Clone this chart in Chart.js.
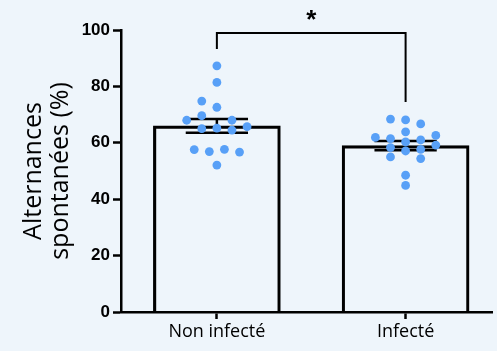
<!DOCTYPE html>
<html>
<head>
<meta charset="utf-8">
<script src="https://cdn.jsdelivr.net/npm/chart.js@4/dist/chart.umd.min.js"></script>
<style>
  html, body { margin: 0; padding: 0; background: #eef5fb; }
  #wrap { width: 497px; height: 351px; position: relative; }
</style>
</head>
<body>
<div id="wrap"><canvas id="alternChart"></canvas></div>
<script>
// Données
const categories = ['Non infecté', 'Infecté'];
const means = [66, 59];
const sems = [2.4, 1.6];

// valeurs individuelles + colonne de dispersion (beeswarm)
const nonInfecteValues = [87.3, 81.4, 74.8, 72.6, 69.6, 68.0, 68.0, 65.0, 65.2, 64.5, 65.7, 57.6, 56.9, 57.7, 56.7, 52.1];
const nonInfecteCols   = [0, 0, -2, 0, -2, -4, 2, -2, 0, 2, 4, -3, -1, 1, 3, 0];
const infecteValues = [68.4, 68.1, 66.7, 63.9, 61.9, 61.5, 62.6, 60.3, 61.0, 59.2, 58.3, 57.1, 57.7, 55.0, 54.4, 48.5, 44.9];
const infecteCols   = [-2, 0, 2, 0, -4, -2, 4, 0, 2, 4, -2, 0, 2, -2, 2, 0, 0];

const yTicks = [0, 20, 40, 60, 80, 100];

// barre de significativité
const bracketTop = 98.9;
const bracketLeftEnd = 93.3;
const bracketRightEnd = 74.5;
const starLabel = '*';
const starValue = 105.5;

const colStep = 0.04;
const dotColor = '#58a0f7';

Chart.defaults.font.family = "'Open Sans', sans-serif";
Chart.defaults.color = '#000';

function toPoints(values, cols, group) {
    return values.map((v, i) => ({ x: group + cols[i] * colStep, y: v }));
}

// Barres d'erreur (SEM) dessinées juste après les barres
const errorBarPlugin = {
    id: 'errorBars',
    afterDatasetDraw(chart, args) {
        if (args.index !== 0) return;
        const ctx = chart.ctx;
        const x = chart.scales.x;
        const y = chart.scales.y;
        ctx.save();
        ctx.strokeStyle = '#000';
        ctx.lineWidth = 2.5;
        means.forEach((m, i) => {
            const cx = x.getPixelForValue(i);
            const half = x.getPixelForValue(i + 0.165) - cx;
            const top = y.getPixelForValue(m + sems[i]);
            const bot = y.getPixelForValue(m - sems[i]);
            ctx.beginPath();
            ctx.moveTo(cx, top); ctx.lineTo(cx, bot);
            ctx.moveTo(cx - half, top); ctx.lineTo(cx + half, top);
            ctx.moveTo(cx - half, bot); ctx.lineTo(cx + half, bot);
            ctx.stroke();
        });
        ctx.restore();
    }
};

// Crochet + étoile
const signifPlugin = {
    id: 'signif',
    afterDraw(chart) {
        const ctx = chart.ctx;
        const x = chart.scales.x;
        const y = chart.scales.y;
        const x0 = x.getPixelForValue(0);
        const x1 = x.getPixelForValue(1);
        ctx.save();
        ctx.strokeStyle = '#000';
        ctx.lineWidth = 2;
        ctx.beginPath();
        ctx.moveTo(x0, y.getPixelForValue(bracketLeftEnd));
        ctx.lineTo(x0, y.getPixelForValue(bracketTop));
        ctx.lineTo(x1, y.getPixelForValue(bracketTop));
        ctx.lineTo(x1, y.getPixelForValue(bracketRightEnd));
        ctx.stroke();
        ctx.fillStyle = '#000';
        ctx.font = "bold 26px 'Liberation Sans'";
        ctx.textAlign = 'center';
        ctx.textBaseline = 'middle';
        ctx.fillText(starLabel, (x0 + x1) / 2, y.getPixelForValue(starValue) + 6);
        ctx.restore();
    }
};

const ctx = document.getElementById('alternChart');
new Chart(ctx, {
    type: 'bar',
    data: {
        datasets: [
            {
                type: 'bar',
                data: means.map((m, i) => ({ x: i, y: m })),
                backgroundColor: 'rgba(0,0,0,0)',
                borderColor: '#000',
                borderWidth: 2.5,
                borderSkipped: 'start',
                barThickness: 127,
                order: 2
            },
            {
                type: 'scatter',
                data: toPoints(nonInfecteValues, nonInfecteCols, 0),
                backgroundColor: dotColor,
                borderWidth: 0,
                pointRadius: 4.4,
                order: 0
            },
            {
                type: 'scatter',
                data: toPoints(infecteValues, infecteCols, 1),
                backgroundColor: dotColor,
                borderWidth: 0,
                pointRadius: 4.4,
                order: 0
            }
        ]
    },
    options: {
        responsive: true,
        maintainAspectRatio: false,
        animation: false,
        layout: { padding: { top: 30, left: 0, right: 0, bottom: 0 } },
        plugins: {
            legend: { display: false },
            tooltip: { enabled: false }
        },
        scales: {
            x: {
                type: 'linear',
                offset: false,
                min: -0.508,
                max: 1.461,
                afterBuildTicks: (scale) => {
                    scale.ticks = categories.map((c, i) => ({ value: i }));
                },
                afterFit: (scale) => { scale.height = 39; },
                ticks: {
                    callback: (v) => categories[v] ?? '',
                    font: { size: 18 },
                    padding: 2,
                    maxRotation: 0,
                    autoSkip: false
                },
                grid: {
                    offset: false,
                    drawOnChartArea: false,
                    drawTicks: true,
                    tickLength: 7,
                    tickColor: '#000',
                    tickWidth: 2.5
                },
                border: { display: true, color: '#000', width: 2.5 }
            },
            y: {
                min: 0,
                max: 100,
                afterBuildTicks: (scale) => {
                    scale.ticks = yTicks.map(v => ({ value: v }));
                },
                afterFit: (scale) => { scale.width = 121; },
                ticks: {
                    font: { family: "'Liberation Sans'", size: 17, weight: 'bold' },
                    padding: 3
                },
                grid: {
                    drawOnChartArea: false,
                    drawTicks: true,
                    tickLength: 8,
                    tickColor: '#000',
                    tickWidth: 2.5
                },
                border: { display: true, color: '#000', width: 2.5 },
                title: {
                    display: true,
                    text: ['Alternances', 'spontanées (%)'],
                    font: { size: 25, lineHeight: 1.1 },
                    padding: { top: 20, bottom: 0 }
                }
            }
        }
    },
    plugins: [errorBarPlugin, signifPlugin]
});
</script>
</body>
</html>
